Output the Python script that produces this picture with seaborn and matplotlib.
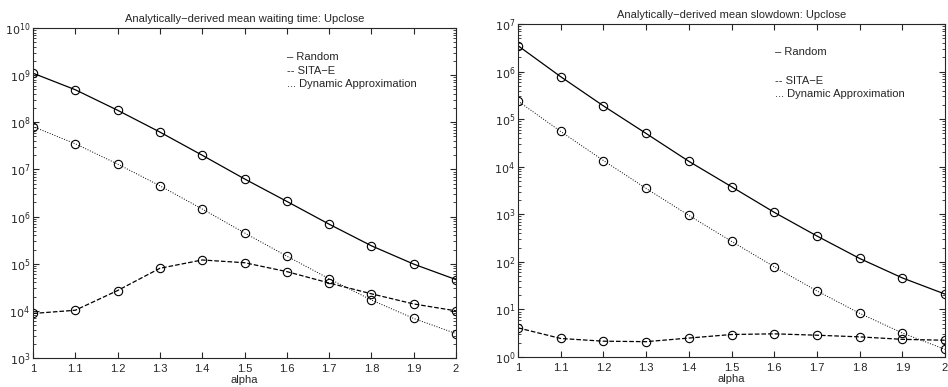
import numpy as np
import pandas as pd
import matplotlib
matplotlib.use('Agg')
import matplotlib.pyplot as plt
import seaborn as sns

# Data
alpha = [1.0, 1.1, 1.2, 1.3, 1.4, 1.5, 1.6, 1.7, 1.8, 1.9, 2.0]

# mean waiting time
wait_random = [1.1e9, 4.9e8, 1.8e8, 6.2e7, 2.0e7, 6.3e6, 2.1e6, 6.9e5, 2.4e5, 9.8e4, 4.6e4]
wait_sita = [8.8e3, 1.03e4, 2.7e4, 8.0e4, 1.2e5, 1.05e5, 6.8e4, 3.9e4, 2.3e4, 1.4e4, 1.0e4]
wait_dynamic = [8.1e7, 3.5e7, 1.3e7, 4.5e6, 1.45e6, 4.5e5, 1.45e5, 4.8e4, 1.7e4, 6.9e3, 3.3e3]

# mean slowdown
slow_random = [3.5e6, 7.8e5, 1.9e5, 5.0e4, 1.3e4, 3.8e3, 1.1e3, 3.5e2, 1.18e2, 46, 21]
slow_sita = [4.1, 2.45, 2.15, 2.1, 2.5, 2.97, 3.07, 2.87, 2.65, 2.35, 2.25]
slow_dynamic = [2.4e5, 5.5e4, 1.35e4, 3.5e3, 9.5e2, 2.7e2, 79, 24.5, 8.3, 3.2, 1.45]

sns.set_style('ticks')
plt.rcParams['font.family'] = ['Liberation Sans', 'DejaVu Sans']
plt.rcParams['xtick.direction'] = 'in'
plt.rcParams['ytick.direction'] = 'in'
plt.rcParams['axes.linewidth'] = 0.8

fig = plt.figure(figsize=(9.48, 3.87), dpi=100)
ax1 = fig.add_axes([33 / 948, 1 - 358 / 387, 423 / 948, 330 / 387])
ax2 = fig.add_axes([518 / 948, 1 - 357 / 387, 427 / 948, 333 / 387])


def draw(ax, random, sita, dynamic, decades, title, legend_y):
    common = dict(color='black', marker='o', markersize=6, markerfacecolor='none',
                  markeredgecolor='black', markeredgewidth=0.8, sort=False, ax=ax)
    sns.lineplot(x=alpha, y=random, linestyle='-', linewidth=0.9, **common)
    sns.lineplot(x=alpha, y=dynamic, linestyle=':', linewidth=0.7, **common)
    sns.lineplot(x=alpha, y=sita, linestyle='--', linewidth=0.9, dashes=(6, 4), **common)
    ax.set_yscale('log')
    ax.set_xlim(1, 2)
    ax.set_ylim(10.0 ** decades[0], 10.0 ** decades[-1])
    ax.set_yticks([10.0 ** k for k in decades])
    ax.set_yticklabels(['$10^{%d}$' % k for k in decades])
    ax.set_ylim(10.0 ** decades[0], 10.0 ** decades[-1])
    ax.set_xticks(alpha)
    ax.set_xticklabels(['1', '1.1', '1.2', '1.3', '1.4', '1.5', '1.6', '1.7', '1.8', '1.9', '2'])
    ax.set_xlabel('alpha', fontsize=8, labelpad=1)
    ax.set_title(title, fontsize=8, pad=4)
    ax.tick_params(which='both', top=True, right=True, labelsize=8)
    ax.tick_params(axis='x', pad=4)
    ax.tick_params(axis='y', pad=2)
    ax.tick_params(which='major', length=4)
    ax.tick_params(which='minor', length=2)
    ax.grid(False)
    labels = ['\u2013 Random', '-- SITA\u2212E', '... Dynamic Approximation']
    for lab, (lx, ly) in zip(labels, legend_y):
        ax.text(lx, ly, lab, transform=fig.transFigure, fontsize=8, va='center', ha='left')


draw(ax1, wait_random, wait_sita, wait_dynamic, list(range(3, 11)),
     'Analytically\u2212derived mean waiting time: Upclose',
     [(287 / 948, 1 - 57 / 387), (287 / 948, 1 - 71 / 387), (287 / 948, 1 - 84 / 387)])
draw(ax2, slow_random, slow_sita, slow_dynamic, list(range(0, 8)),
     'Analytically\u2212derived mean slowdown: Upclose',
     [(775 / 948, 1 - 52 / 387), (775 / 948, 1 - 81 / 387), (775 / 948, 1 - 94 / 387)])

fig.savefig('out.png', dpi=100)
